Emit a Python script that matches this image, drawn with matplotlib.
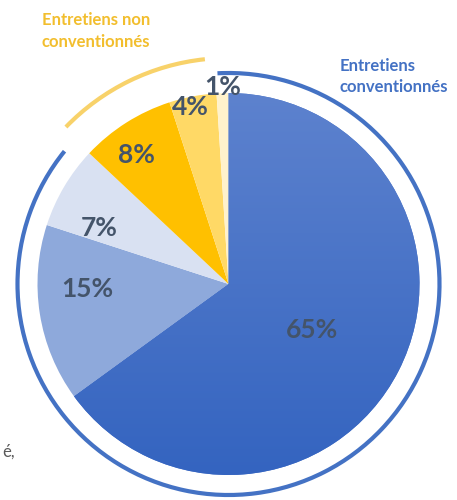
import matplotlib
matplotlib.use("Agg")
import matplotlib.pyplot as plt
import numpy as np
from matplotlib.patches import Arc
from matplotlib.colors import LinearSegmentedColormap

values = [65, 15, 7, 8, 4, 1]
labels = ["65%", "15%", "7%", "8%", "4%", "1%"]
colors = ["#4A74C8", "#8EA9DB", "#D9E1F2", "#FFC000", "#FFD966", "#FFF2CC"]
group_labels = ["Entretiens non\nconventionnés", "Entretiens\nconventionnés"]
group_values = [13, 87]

W, H = 457, 500
fig = plt.figure(figsize=(W / 100, H / 100), dpi=100)
ax = fig.add_axes([0, 0, 1, 1])

cx, cy, r = 228.5, H - 284, 191
wedges, _ = ax.pie(values, colors=colors, startangle=90, counterclock=False,
                   center=(cx, cy), radius=r, frame=True,
                   wedgeprops=dict(linewidth=0))
ax.set_xlim(0, W)
ax.set_ylim(0, H)
ax.set_aspect("equal")
ax.axis("off")

# gradient on the main slice
cmap = LinearSegmentedColormap.from_list("g", ["#3464C0", "#5D82CE"])
grad = np.linspace(0, 1, 256).reshape(-1, 1)
im = ax.imshow(grad, cmap=cmap, extent=(cx - r, cx + r, cy - r, cy + r),
               origin="lower", aspect="auto", zorder=wedges[0].get_zorder() + 0.1)
im.set_clip_path(wedges[0])
ax.set_xlim(0, W)
ax.set_ylim(0, H)

# label placement: (radius fraction, angle in degrees)
label_pos = [(0.50, -28.5), (0.74, 182.0), (0.74, 156.5),
             (0.83, 125.6), (0.95, 102.0), (1.03, 91.6)]
for lab, (lr, ang) in zip(labels, label_pos):
    x = cx + lr * r * np.cos(np.radians(ang))
    y = cy + lr * r * np.sin(np.radians(ang))
    ax.text(x, y, lab, ha="center", va="center", fontsize=19,
            fontweight="bold", family="Lato", color="#44546A", zorder=10)

# outer arcs for groups
ax.add_patch(Arc((cx, cy), 2 * 211, 2 * 211, theta1=141, theta2=93,
                 color="#4472C4", lw=3, zorder=5))
ax.add_patch(Arc((cx, cy), 2 * 226, 2 * 226, theta1=96, theta2=136,
                 color="#F8D26A", lw=3, zorder=5))

ax.text(42, H - 12, group_labels[0], ha="left", va="top", fontsize=12,
        fontweight="bold", family="Lato", color="#F2BE2E", linespacing=1.45)
ax.text(340, H - 58, group_labels[1], ha="left", va="top", fontsize=12,
        fontweight="bold", family="Lato", color="#4472C4", linespacing=1.4)

ax.text(2, H - 452, "é,", ha="left", va="center", fontsize=12,
        family="Lato", color="#595959")

fig.savefig("out.png", dpi=100)
